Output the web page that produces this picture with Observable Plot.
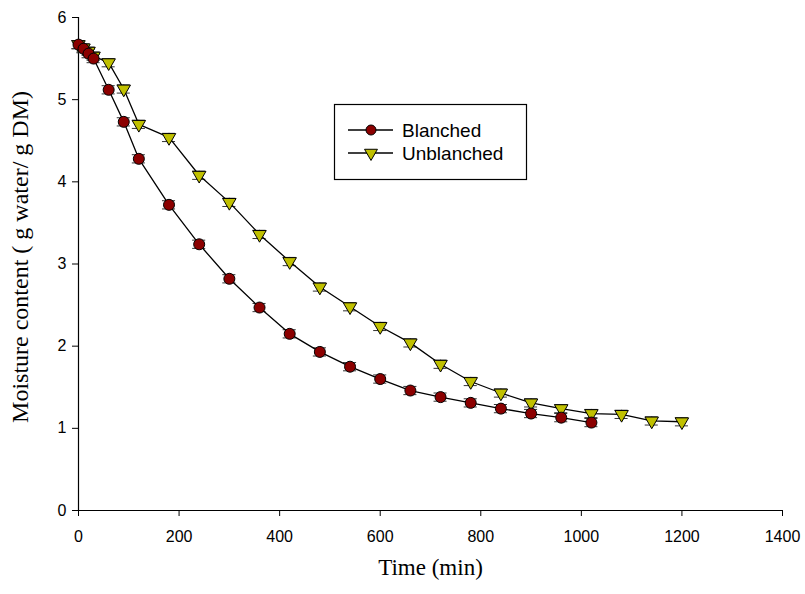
<!DOCTYPE html>
<html>
<head>
<meta charset="utf-8">
<script src="https://cdn.jsdelivr.net/npm/d3@7"></script>
<script src="https://cdn.jsdelivr.net/npm/@observablehq/plot@0.6"></script>
<style>
  html, body { margin: 0; padding: 0; background: #fff; }
  #wrap { position: relative; width: 805px; height: 594px; }
  #legend { position: absolute; left: 0; top: 0; }
</style>
</head>
<body>
<div id="wrap"></div>
<script>
// ---- data ----
const seriesNames = ["Blanched", "Unblanched"];
const timeBlanched = [0, 10, 20, 30, 60, 90, 120, 180, 240, 300, 360, 420, 480, 540, 600, 660, 720, 780, 840, 900, 960, 1020];
const moistBlanched = [5.67, 5.62, 5.56, 5.50, 5.12, 4.73, 4.28, 3.72, 3.24, 2.82, 2.47, 2.15, 1.93, 1.75, 1.60, 1.46, 1.38, 1.31, 1.24, 1.18, 1.13, 1.07];
const errBlanched = [0.05, 0.05, 0.05, 0.05, 0.05, 0.05, 0.05, 0.05, 0.05, 0.05, 0.05, 0.05, 0.05, 0.05, 0.05, 0.05, 0.05, 0.05, 0.05, 0.05, 0.05, 0.05];
const timeUnblanched = [0, 10, 20, 30, 60, 90, 120, 180, 240, 300, 360, 420, 480, 540, 600, 660, 720, 780, 840, 900, 960, 1020, 1080, 1140, 1200];
const moistUnblanched = [5.67, 5.63, 5.59, 5.53, 5.45, 5.13, 4.70, 4.54, 4.08, 3.75, 3.36, 3.03, 2.72, 2.48, 2.24, 2.04, 1.78, 1.57, 1.43, 1.31, 1.24, 1.18, 1.17, 1.09, 1.08];
const errUnblanched = [0.05, 0.05, 0.05, 0.05, 0.05, 0.05, 0.05, 0.05, 0.05, 0.05, 0.05, 0.05, 0.05, 0.05, 0.05, 0.05, 0.05, 0.05, 0.05, 0.05, 0.05, 0.05, 0.05, 0.05, 0.05];
const xTicks = [0, 200, 400, 600, 800, 1000, 1200, 1400];
const yTicks = [0, 1, 2, 3, 4, 5, 6];
const xLabel = "Time (min)";
const yLabel = "Moisture content ( g water/ g DM)";

// ---- build tables ----
const blanched = timeBlanched.map((t, i) => ({t, m: moistBlanched[i], e: errBlanched[i]}));
const unblanched = timeUnblanched.map((t, i) => ({t, m: moistUnblanched[i], e: errUnblanched[i]}));

const RED = "#8b0000";
const YEL = "#c0c000";
const capHalf = 13; // minutes
const SERIF = "'Liberation Serif', 'Times New Roman', serif";
const SANS = "'Liberation Sans', Arial, sans-serif";

function errMarks(data) {
  return [
    Plot.ruleX(data, {x: "t", y1: d => d.m - d.e, y2: d => d.m + d.e, stroke: "#333", strokeWidth: 1}),
    Plot.ruleY(data, {y: d => d.m + d.e, x1: d => d.t - capHalf, x2: d => d.t + capHalf, stroke: "#333", strokeWidth: 1}),
    Plot.ruleY(data, {y: d => d.m - d.e, x1: d => d.t - capHalf, x2: d => d.t + capHalf, stroke: "#333", strokeWidth: 1})
  ];
}

const chart = Plot.plot({
  width: 805,
  height: 594,
  marginLeft: 78,
  marginRight: 23,
  marginTop: 17,
  marginBottom: 84,
  style: {fontFamily: SANS, background: "#fff"},
  x: {domain: [0, 1400]},
  y: {domain: [0, 6]},
  marks: [
    Plot.axisX({ticks: xTicks, tickFormat: d => String(d), tickSize: 6, tickPadding: 14, fontSize: 16, label: null, stroke: "#000", color: "#000"}),
    Plot.axisY({ticks: yTicks, tickFormat: d => String(d), tickSize: 6, tickPadding: 6, fontSize: 16, label: null, stroke: "#000", color: "#000"}),
    Plot.ruleX([0], {stroke: "#000", strokeWidth: 1.2}),
    Plot.ruleY([0], {stroke: "#000", strokeWidth: 1.2}),
    ...errMarks(unblanched),
    ...errMarks(blanched),
    Plot.line(unblanched, {x: "t", y: "m", stroke: "#000", strokeWidth: 1.3}),
    Plot.line(blanched, {x: "t", y: "m", stroke: "#000", strokeWidth: 1.3}),
    Plot.dot(unblanched, {x: "t", y: "m", symbol: "triangle", rotate: 180, r: 5, fill: YEL, stroke: "#000", strokeWidth: 1}),
    Plot.dot(blanched, {x: "t", y: "m", symbol: "circle", r: 5.5, fill: RED, stroke: "#000", strokeWidth: 1}),
    Plot.text([xLabel], {frameAnchor: "bottom", textAnchor: "middle", dy: 64, fontFamily: SERIF, fontSize: 23, fill: "#000"}),
    Plot.text([yLabel], {frameAnchor: "left", textAnchor: "middle", rotate: -90, dx: -58, dy: -7, fontFamily: SERIF, fontSize: 24, fill: "#000"})
  ]
});

const wrap = document.getElementById("wrap");
wrap.appendChild(chart);

// ---- legend (overlay) ----
const lg = d3.select(wrap).append("svg")
  .attr("id", "legend")
  .attr("width", 805).attr("height", 594)
  .style("pointer-events", "none");
lg.append("rect").attr("x", 334.5).attr("y", 104.5).attr("width", 192).attr("height", 75)
  .attr("fill", "#fff").attr("stroke", "#000").attr("stroke-width", 1.2);
const rows = [
  {name: seriesNames[0], y: 130, sym: d3.symbolCircle, size: Math.PI * 5 * 5, fill: RED, rot: 0},
  {name: seriesNames[1], y: 153, sym: d3.symbolTriangle, size: Math.PI * 4.8 * 4.8, fill: YEL, rot: 180}
];
rows.forEach(r => {
  lg.append("line").attr("x1", 348).attr("x2", 393).attr("y1", r.y).attr("y2", r.y)
    .attr("stroke", "#000").attr("stroke-width", 1.3);
  lg.append("path").attr("d", d3.symbol(r.sym, r.size)())
    .attr("transform", `translate(371,${r.y}) rotate(${r.rot})`)
    .attr("fill", r.fill).attr("stroke", "#000").attr("stroke-width", 1);
  lg.append("text").attr("x", 402).attr("y", r.y).attr("dy", "0.35em")
    .attr("font-family", SANS).attr("font-size", 19)
    .attr("fill", "#000").text(r.name);
});
</script>
</body>
</html>
